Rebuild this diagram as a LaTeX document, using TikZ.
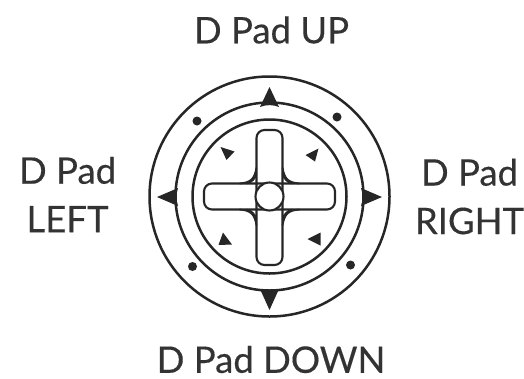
\documentclass[tikz,border=0pt]{standalone}
\usepackage{fontspec}
\setmainfont[FakeBold=0.3]{Lato}
\tikzset{
  ring/.style={draw=black!85,line width=2.5pt,fill=none},
  bar/.style={draw=black!85,line width=2.1pt,rounded corners=8pt},
  fillet/.style={draw=black!85,line width=1.8pt},
  bigtip/.style={fill=black!85,draw=none},
  smalltip/.style={fill=black!85,draw=none},
  lab/.style={font=\fontsize{36.5}{48.5}\selectfont,text=black!80,align=center,inner sep=0pt}
}
\begin{document}
\begin{tikzpicture}[x=1pt,y=-1pt]
\useasboundingbox (0,0) rectangle (524,378);
\fill[white] (0,0) rectangle (524,378);
\coordinate (c) at (269.5,196.5);
\node[lab] (up) at (271.5,30) {D Pad UP};
\node[lab] (down) at (271,359.5) {D Pad DOWN};
\node[lab] (left) at (67.5,194.5) {D Pad\\LEFT};
\node[lab] (right) at (469.5,196.5) {D Pad\\RIGHT};
\draw[ring] (c) circle (120);
\draw[ring] (c) circle (94);
\draw[ring] (c) circle (77);
% big triangles
\fill[bigtip] (269.5,87) -- (260,107) .. controls (266,104.5) and (273,104.5) .. (279,107) -- cycle;
\fill[bigtip] (269.5,310) -- (260,289) .. controls (266,291) and (273,291) .. (279,289) -- cycle;
\fill[bigtip] (157,197) -- (178,188) .. controls (176,194) and (176,200) .. (178,206) -- cycle;
\fill[bigtip] (382,197) -- (361,188) .. controls (363,194) and (363,200) .. (361,206) -- cycle;
% dots
\foreach \x/\y in {197/121,337/117,192.5/266.5,350.5/265}{\fill[black!85] (\x,\y) circle (4.5);}
% small triangles
\fill[smalltip] (220.5,147) -- (234.5,151.5) -- (226.5,160) -- cycle;
\fill[smalltip] (318.5,148.5) -- (305.5,155) -- (315,161.5) -- cycle;
\fill[smalltip] (223,232.5) -- (218.5,245) -- (232,244.5) -- cycle;
\fill[smalltip] (320.5,232.5) -- (307.5,239) -- (320.5,245.5) -- cycle;
% fillets
\foreach \sx/\sy in {-1/-1,1/-1,-1/1,1/1}{
  \draw[fillet] ({269.5+\sx*13},{196.5+\sy*29}) .. controls ({269.5+\sx*15},{196.5+\sy*17}) and ({269.5+\sx*19},{196.5+\sy*14}) .. ({269.5+\sx*30},{196.5+\sy*13});
  \draw[fillet] ({269.5+\sx*13},{196.5+\sy*23}) .. controls ({269.5+\sx*14},{196.5+\sy*18}) and ({269.5+\sx*18},{196.5+\sy*14}) .. ({269.5+\sx*23},{196.5+\sy*13});
}
\draw[bar] (204,183.5) rectangle (335,209.5);
\draw[bar] (256.5,130) rectangle (282.5,265);
\node[circle,draw=black!85,line width=2.1pt,fill=white,minimum size=28pt,inner sep=0pt] (hub) at (c) {};
\end{tikzpicture}
\end{document}
